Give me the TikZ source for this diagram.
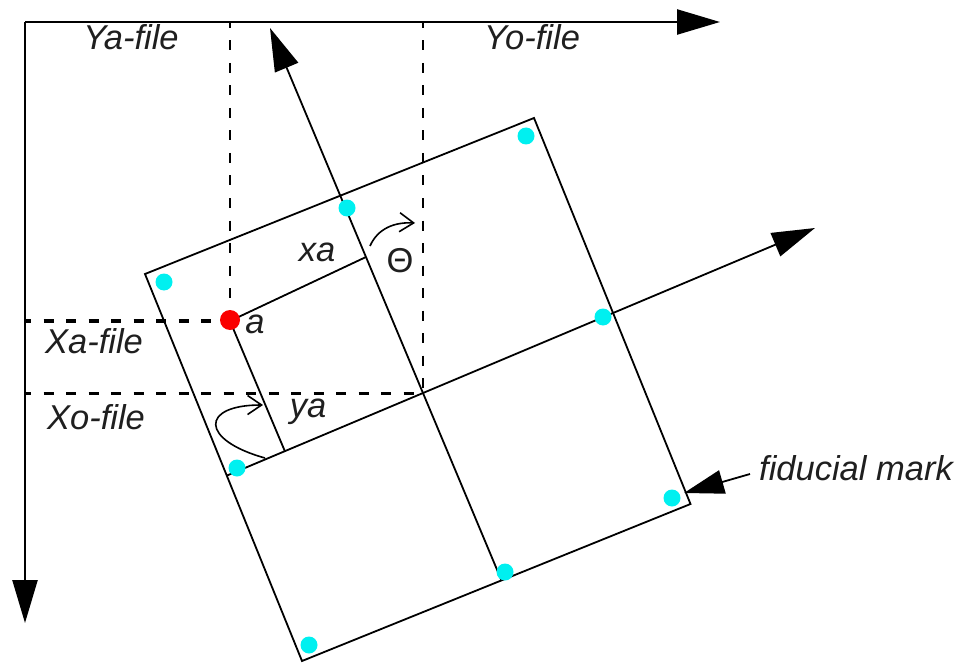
\documentclass[tikz,border=0pt]{standalone}
\usepackage{fontspec}
\setmainfont{Liberation Sans}
\usetikzlibrary{arrows.meta}
\definecolor{fidcyan}{RGB}{0,240,240}
\definecolor{markred}{RGB}{250,0,0}
\begin{document}
\begin{tikzpicture}[x=1pt,y=-1pt,
  lbl/.style={font=\itshape\fontsize{34.5}{41}\selectfont, inner sep=0pt, anchor=base, text=black!88},
  ulbl/.style={font=\fontsize{34.5}{41}\selectfont, inner sep=0pt, anchor=base, text=black!88},
  edge/.style={line width=1.8pt},
  axis/.style={line width=2.4pt},
  bigtip/.style={-{Triangle[length=43pt,width=25pt]}},
  thindash/.style={line width=2.4pt, dash pattern=on 10pt off 12.5pt, dash phase=4pt},
  thickdash/.style={line width=3.8pt, dash pattern=on 10pt off 12.5pt, dash phase=4pt},
  fid/.style={circle, fill=fidcyan, minimum size=17pt, inner sep=0pt},
  reddot/.style={circle, fill=markred, minimum size=20pt, inner sep=0pt},
  curvetip/.style={-{Straight Barb[length=14pt,width=19pt]}, line width=1.6pt}
]
\useasboundingbox (0,0) rectangle (963,663);
% outer axes
\coordinate (O) at (25,22);
\coordinate (Ytip) at (720,22);
\coordinate (Xtip) at (25,623);
\draw[axis,bigtip] (O) -- (Ytip);
\draw[axis,bigtip] (O) -- (Xtip);
% rotated image frame
\coordinate (TL) at (145,274);
\coordinate (TR) at (534,118);
\coordinate (BR) at (690.5,504);
\coordinate (BL) at (302,661);
\draw[edge] (TL) -- (TR) -- (BR) -- (BL) -- cycle;
% inner axes
\coordinate (C) at (423,393.5);
\coordinate (Vb) at (501.5,580.4);
\coordinate (Vtip) at (270,28);
\coordinate (Ul) at (226.8,475.6);
\coordinate (Utip) at (815,228);
\draw[edge,bigtip] (Vb) -- (Vtip);
\draw[edge,bigtip] (Ul) -- (Utip);
% dashed projections
\coordinate (A) at (230,321);
\coordinate (Atop) at (230,22);
\coordinate (Ctop) at (423,22);
\coordinate (Aleft) at (25,321);
\coordinate (Cleft) at (25,393.5);
\draw[thindash] (Atop) -- (A);
\draw[thindash] (Ctop) -- (C);
\draw[thickdash] (Aleft) -- (A);
\draw[thickdash] (Cleft) -- (C);
% xa, ya
\coordinate (XA) at (366,257);
\coordinate (YA) at (285,451.5);
\draw[edge] (A) -- (XA);
\draw[edge] (A) -- (YA);
% rotation arrows
\coordinate (T0) at (370,246);
\coordinate (T1) at (415,223);
\draw[curvetip] (T0) .. controls (378,228) and (395,222) .. (T1);
\coordinate (Y0) at (265,458);
\coordinate (Y1) at (263,405);
\draw[curvetip] (Y0) .. controls (200,440) and (200,405) .. (Y1);
% fiducial pointer
\coordinate (Ftip) at (684,493);
\coordinate (Ftail) at (750,474);
\draw[edge,-{Triangle[length=40pt,width=24pt]}] (Ftail) -- (Ftip);
% fiducial marks
\node[fid] (d1) at (164,282) {};
\node[fid] (d2) at (347,208) {};
\node[fid] (d3) at (526,136) {};
\node[fid] (d4) at (603,317) {};
\node[fid] (d5) at (672,498) {};
\node[fid] (d6) at (505,572) {};
\node[fid] (d7) at (309,645) {};
\node[fid] (d8) at (237,468) {};
\node[reddot] (ra) at (230,320) {};
% labels
\node[lbl] (lYa) at (131,50) {Ya-file};
\node[lbl] (lYo) at (532,50) {Yo-file};
\node[lbl] (lXa) at (94,353) {Xa-file};
\node[lbl] (lXo) at (96,429) {Xo-file};
\node[lbl] (la) at (255,333) {a};
\node[lbl] (lxa) at (317,261) {xa};
\node[lbl] (lya) at (308,417) {ya};
\node[ulbl] (lth) at (400,272) {Θ};
\node[lbl] (lfm) at (856,480) {fiducial mark};
\end{tikzpicture}
\end{document}
